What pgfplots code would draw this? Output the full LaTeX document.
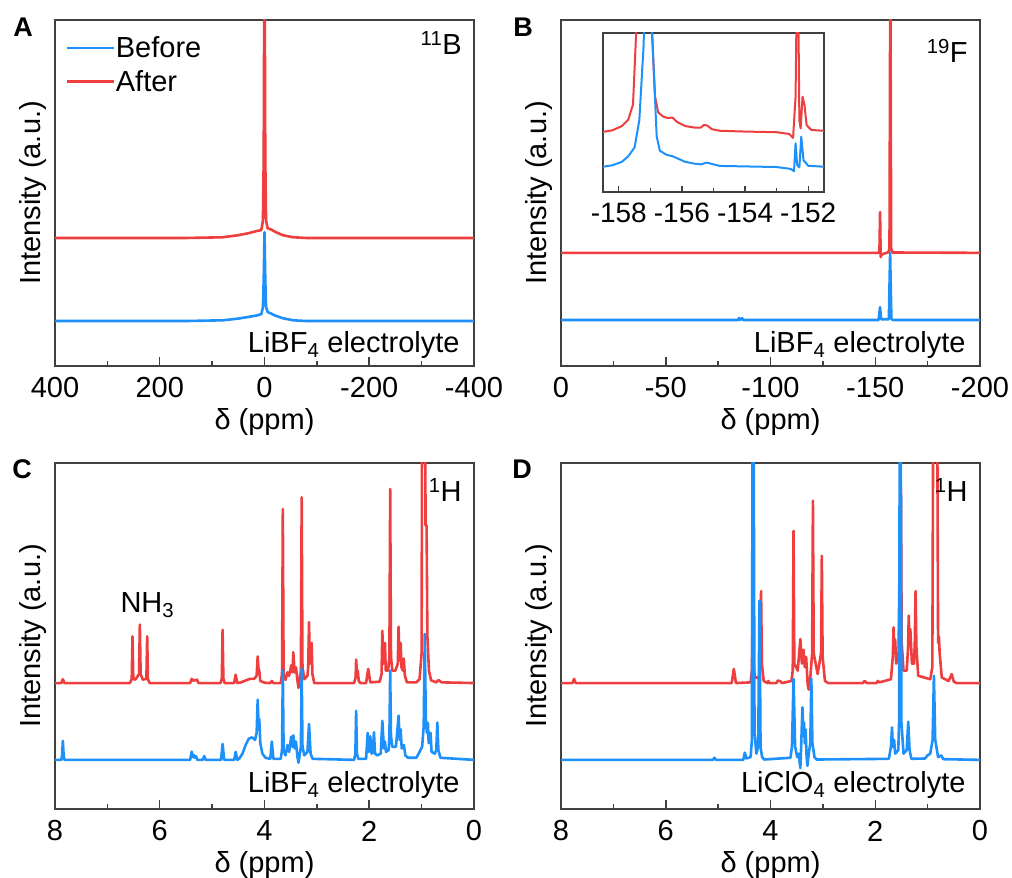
\documentclass[border=0pt]{standalone}
\usepackage{fontspec}
\setmainfont{Liberation Sans}
\usepackage{pgfplots}
\pgfplotsset{compat=1.18}
\definecolor{cblue}{RGB}{30,144,250}
\definecolor{cred}{RGB}{238,62,62}
\newcommand\fs{\fontsize{29}{34}\selectfont}
\pgfplotsset{
  nmr/.style={
    scale only axis, width=419pt, height=346pt,
    x dir=reverse, ymin=0, ymax=100, ytick=\empty,
    axis line style={line width=1.6pt, black!75},
    every tick/.style={line width=1.5pt, black!75},
    tick align=inside, xtick pos=left,
    major tick length=9pt, minor tick length=5pt,
    xticklabel style={anchor=center, yshift=-22pt, font=\fs},
    xlabel={δ (ppm)},
    xlabel style={at={(axis description cs:0.5,-0.162)}, anchor=center, font=\fs},
    ylabel={Intensity (a.u.)},
    ylabel style={at={(axis description cs:-0.0525,0.5)}, anchor=center, font=\fs},
    every axis plot/.append style={line width=2.6pt, line join=round},
  },
  hnmr/.style={nmr, xmin=0, xmax=8, xtick={8,6,4,2,0}, xticklabels={8,6,4,2,0}, minor xtick={7,5,3,1}},
}
\begin{document}
\begin{tikzpicture}[font=\fs]
\path[use as bounding box] (0,0) rectangle (1012pt,878pt);

% ---------------- A ----------------
\begin{axis}[nmr, at={(55pt,512pt)}, anchor=south west,
  xmin=-400, xmax=400, xtick={400,200,0,-200,-400}, xticklabels={400,200,0,-200,-400},
  minor xtick={300,100,-100,-300},
  legend style={at={(axis description cs:0.024,0.955)}, anchor=north west, draw=none, fill=none,
    font=\fs, row sep=9pt, inner sep=0pt, nodes={inner sep=1pt}},
  legend cell align=left,
  legend image code/.code={\draw[#1, line width=2.6pt] (0pt,0pt) -- (47pt,0pt);}]
\addlegendimage{cblue}\addlegendentry{Before}
\addlegendimage{cred}\addlegendentry{After}
\addplot[cred, forget plot] coordinates {(400,37) (150,37) (80,37.2) (50,37.8) (30,38.4) (15,39) (6,39.3) (3,42) (1.5,60) (0,130) (-1.5,60) (-3,42) (-6,39.8) (-12,39.5) (-20,38.8) (-35,37.8) (-55,37.2) (-80,37) (-400,37)};
\addplot[cblue, forget plot] coordinates {(400,13) (150,13) (80,13.2) (50,13.7) (30,14.2) (15,14.6) (6,15) (3,17) (1.5,25) (0,38.7) (-1.5,25) (-3,17) (-6,15.6) (-12,15.2) (-20,14.6) (-35,13.8) (-55,13.2) (-80,13) (-400,13)};
\node[anchor=base east] at (axis description cs:0.979,0.899) {\textsuperscript{11}B};
\node[anchor=base east] at (axis description cs:0.974,0.04) {LiBF\textsubscript{4} electrolyte};
\end{axis}

% ---------------- B ----------------
\begin{axis}[nmr, at={(561pt,512pt)}, anchor=south west,
  xmin=-200, xmax=0, xtick={0,-50,-100,-150,-200}, xticklabels={0,-50,-100,-150,-200},
  minor xtick={-25,-75,-125,-175}]
\addplot[cred] coordinates {(0,32.7) (-151.5,32.7) (-152,33) (-152.3,44.5) (-152.6,31.5) (-153,32.2) (-156.3,32.9) (-156.8,34) (-157.2,120) (-157.6,34) (-158.2,32.8) (-200,32.7)};
\addplot[cblue] coordinates {(0,13.3) (-84.5,13.3) (-85,13.9) (-85.5,13.3) (-86.5,13.8) (-87,13.3) (-151.6,13.3) (-152.3,17) (-152.8,13.5) (-156.5,13.5) (-157.1,32.7) (-157.7,13.6) (-158.5,13.3) (-200,13.3)};
\node[anchor=base east] at (axis description cs:0.979,0.876) {\textsuperscript{19}F};
\node[anchor=base east] at (axis description cs:0.974,0.04) {LiBF\textsubscript{4} electrolyte};
\end{axis}

% inset
\begin{axis}[scale only axis, width=221pt, height=159pt, at={(603pt,686pt)}, anchor=south west,
  xmin=-158.5, xmax=-151.5, ymin=0, ymax=100, ytick=\empty,
  xtick={-158,-156,-154,-152}, xticklabels={-158,-156,-154,-152}, minor xtick={-157,-155,-153},
  axis line style={line width=1.5pt, black!75},
  every tick/.style={line width=1.3pt, black!75},
  tick align=inside, xtick pos=left, major tick length=6pt, minor tick length=4pt,
  xticklabel style={anchor=center, yshift=-21pt, font=\fontsize{28}{32}\selectfont},
  every axis plot/.append style={line width=2pt, line join=round}]
\addplot[cred] coordinates {(-158.5,37.8) (-158.2,38.8) (-157.9,41.5) (-157.7,45.5) (-157.55,55) (-157.45,100) (-157.35,130) (-157.05,130) (-156.95,100) (-156.85,60) (-156.75,50) (-156.6,47.5) (-156.45,46.5) (-156.3,46.8) (-156.15,44) (-155.9,41.5) (-155.6,40.5) (-155.4,40.5) (-155.3,42.2) (-155.2,41.8) (-155.05,39.5) (-154.8,38.5) (-154,38) (-153,37.6) (-152.6,36.5) (-152.48,34) (-152.4,60) (-152.36,130) (-152.32,130) (-152.28,45) (-152.24,40) (-152.18,60) (-152.12,55) (-152.05,42) (-151.9,39) (-151.5,38.5)};
\addplot[cblue] coordinates {(-158.5,15.9) (-158.2,16.8) (-157.9,19) (-157.7,22.5) (-157.5,28) (-157.35,45) (-157.22,90) (-157.15,130) (-157.0,130) (-156.9,80) (-156.8,35) (-156.7,26) (-156.5,23.5) (-156.3,22.5) (-156.15,21.2) (-155.9,19) (-155.6,17.8) (-155.4,17.4) (-155.2,18.5) (-155.05,17.6) (-154.8,16.4) (-153,15.7) (-152.55,14.5) (-152.45,13) (-152.4,30.6) (-152.35,17) (-152.28,15.5) (-152.22,34.8) (-152.15,20) (-152.0,16.5) (-151.5,15.9)};
\end{axis}

% ---------------- C ----------------
\begin{axis}[hnmr, at={(55pt,69pt)}, anchor=south west]
\addplot[cred] coordinates {(8.0,36.4) (7.88,36.4) (7.85,37.5) (7.82,36.4)
(6.57,36.4) (6.535,37.5) (6.52,49.9) (6.505,37.6) (6.465,37.4) (6.395,39) (6.38,53.3) (6.365,39) (6.325,37.4) (6.255,37.6) (6.24,49.9) (6.225,37.5) (6.19,36.4)
(5.42,36.4) (5.39,37.6) (5.36,37.1) (5.33,37.3) (5.31,37.1) (5.29,37.4) (5.26,36.4)
(4.84,36.4) (4.815,37.7) (4.80,51.8) (4.785,37.7) (4.76,36.4)
(4.58,36.4) (4.55,38.8) (4.52,36.4)
(4.45,36.6) (4.35,37.2) (4.28,37.6) (4.2,37.6) (4.15,38.5) (4.13,44.1) (4.115,40.5) (4.10,40) (4.08,37) (4.0,36.5)
(3.89,36.4) (3.86,37) (3.83,36.4)
(3.69,36.4) (3.665,39) (3.65,86.7) (3.635,39) (3.6,37.3)
(3.56,39.5) (3.53,38.5) (3.49,41.5) (3.465,39.5) (3.45,45.3) (3.425,39.5) (3.40,41) (3.37,37) (3.35,35) (3.33,37)
(3.305,40) (3.29,90.1) (3.275,41) (3.24,37.5) (3.18,38.5) (3.165,41) (3.15,54) (3.135,42) (3.10,48) (3.085,39) (3.05,36.4)
(2.29,36.4) (2.26,38) (2.25,43.2) (2.235,39.5) (2.22,40) (2.2,37) (2.17,36.4)
(2.06,36.4) (2.02,40.5) (1.98,36.6)
(1.80,36.8) (1.765,39) (1.75,51.5) (1.73,42) (1.70,48) (1.685,40) (1.64,40) (1.615,44) (1.60,92.5) (1.585,44) (1.56,40) (1.50,40) (1.455,42) (1.44,52.7) (1.425,43) (1.40,48) (1.385,41) (1.36,40) (1.34,43.5) (1.32,38.5) (1.28,36.6)
(1.10,36.6) (1.04,37.5) (1.0,45) (0.99,130) (0.935,130) (0.925,82) (0.905,82) (0.89,50) (0.86,40) (0.82,37.2)
(0.72,36.6) (0.68,37.3) (0.62,36.6) (0.0,36.4)};
\addplot[cblue] coordinates {(8.0,14.2) (7.88,14.2) (7.865,15.5) (7.85,19.7) (7.835,15.5) (7.82,14.2)
(5.42,14.2) (5.39,16.6) (5.37,15) (5.35,15.6) (5.33,14.8) (5.31,15.3) (5.28,14.2) (5.18,14.2) (5.15,15.3) (5.12,14.2)
(4.83,14.2) (4.80,18.8) (4.77,14.2)
(4.58,14.2) (4.55,16.5) (4.52,14.2)
(4.48,14.6) (4.42,16) (4.36,18.5) (4.3,20.3) (4.24,20.7) (4.18,20) (4.15,22) (4.13,31.6) (4.115,25) (4.10,26) (4.08,19) (4.04,16) (3.98,14.8)
(3.89,14.5) (3.86,19.5) (3.83,14.5)
(3.69,14.5) (3.665,17) (3.65,40) (3.635,17) (3.6,15.5)
(3.56,18.5) (3.53,16.5) (3.49,20.9) (3.465,18) (3.45,21.3) (3.425,17.5) (3.40,19.5) (3.37,15) (3.35,13.4) (3.33,15.5)
(3.305,18) (3.29,40.5) (3.275,18) (3.24,15.5) (3.18,16.5) (3.15,24.6) (3.12,16) (3.08,14.5)
(2.29,14.2) (2.265,16) (2.25,28.4) (2.235,16) (2.21,14.5)
(2.06,14.5) (2.03,22) (2.01,16.5) (1.98,21) (1.955,16) (1.93,16.5) (1.91,22.2) (1.89,16) (1.85,15.5)
(1.78,16) (1.75,25.5) (1.72,17.5) (1.70,19.5) (1.68,16.5) (1.63,17) (1.615,21) (1.60,40) (1.585,21) (1.56,18) (1.49,18) (1.44,27) (1.42,20) (1.40,23) (1.38,17.5) (1.34,18.5) (1.31,15.5) (1.26,14.8)
(1.1,14.8) (1.04,16.5) (0.99,18) (0.96,24) (0.94,50.6) (0.92,26) (0.90,22) (0.88,24.9) (0.865,19) (0.83,22) (0.81,16.5) (0.75,16) (0.72,17) (0.70,25) (0.68,17) (0.64,14.8) (0.0,14.2)};
\node[anchor=base west] at (axis description cs:0.148,0.569) {NH\textsubscript{3}};
\node[anchor=base east] at (axis description cs:0.979,0.89) {\textsuperscript{1}H};
\node[anchor=base east] at (axis description cs:0.974,0.049) {LiBF\textsubscript{4} electrolyte};
\end{axis}

% ---------------- D ----------------
\begin{axis}[hnmr, at={(561pt,69pt)}, anchor=south west]
\addplot[cred] coordinates {(8,36.4) (7.78,36.4) (7.75,37.6) (7.72,36.4)
(4.74,36.4) (4.70,40.5) (4.66,36.4)
(4.38,36.6) (4.355,40) (4.34,60.2) (4.325,42) (4.30,38) (4.22,38) (4.195,42) (4.18,63) (4.165,42) (4.13,37)
(4.06,36.4) (4.04,37) (4.02,36.4) (3.89,36.4) (3.86,37.1) (3.82,37) (3.78,36.4)
(3.6,37) (3.575,40) (3.56,80.4) (3.545,42) (3.48,40) (3.43,49.1) (3.40,42) (3.37,46) (3.345,41) (3.32,44) (3.29,36) (3.27,34.5) (3.24,38) (3.205,45) (3.19,89.1) (3.175,45) (3.10,39) (3.035,45) (3.02,73.2) (3.005,44) (2.96,37) (2.9,36.4)
(2.24,36.4) (2.2,37) (2.16,36.4) (1.98,36.4) (1.95,37) (1.92,36.6)
(1.70,37.5) (1.665,44) (1.65,52.5) (1.635,46) (1.62,49) (1.6,42) (1.555,45) (1.53,80) (1.51,93) (1.495,48) (1.46,40) (1.40,40) (1.375,46) (1.36,55.9) (1.345,47) (1.33,52) (1.30,42) (1.26,42) (1.245,48) (1.23,63) (1.215,47) (1.18,38.5)
(0.95,37.5) (0.91,41) (0.89,130) (0.82,130) (0.80,48) (0.785,50) (0.77,45) (0.73,38) (0.6,37) (0.54,39) (0.5,36.8) (0.45,36.4) (0,36.4)};
\addplot[cblue] coordinates {(8,14.2) (5.1,14.2) (5.07,14.8) (5.04,14.2)
(4.52,14.2) (4.49,16.3) (4.46,14.6) (4.38,15) (4.355,20) (4.34,130) (4.325,130) (4.305,22) (4.27,16) (4.235,18) (4.21,60.2) (4.19,18) (4.16,15) (4.12,14.3)
(3.62,14.8) (3.59,18) (3.56,37.6) (3.53,18) (3.49,15) (3.46,16) (3.44,13) (3.43,11.8) (3.415,18) (3.39,29.4) (3.375,21) (3.36,25) (3.345,19) (3.33,23) (3.31,15) (3.295,12.5) (3.27,16) (3.24,19) (3.22,37.6) (3.20,19) (3.16,15) (3.12,14.3)
(1.74,14.5) (1.70,18) (1.68,23.6) (1.665,18) (1.64,20) (1.62,16) (1.56,17) (1.545,25) (1.53,130) (1.515,130) (1.50,25) (1.46,16) (1.40,17) (1.37,25.2) (1.345,17) (1.31,14.5)
(1.05,14.6) (1.0,15.5) (0.95,16) (0.905,20) (0.88,38.5) (0.855,20) (0.8,15) (0.74,15.5) (0.70,14.4) (0,14.2)};
\node[anchor=base east] at (axis description cs:0.979,0.89) {\textsuperscript{1}H};
\node[anchor=base east] at (axis description cs:0.974,0.049) {LiClO\textsubscript{4} electrolyte};
\end{axis}

% panel letters
\node[font=\bfseries\fontsize{27}{30}\selectfont] at (23pt,851pt) {A};
\node[font=\bfseries\fontsize{27}{30}\selectfont] at (523pt,851pt) {B};
\node[font=\bfseries\fontsize{27}{30}\selectfont] at (22pt,409pt) {C};
\node[font=\bfseries\fontsize{27}{30}\selectfont] at (522pt,409pt) {D};
\end{tikzpicture}
\end{document}
